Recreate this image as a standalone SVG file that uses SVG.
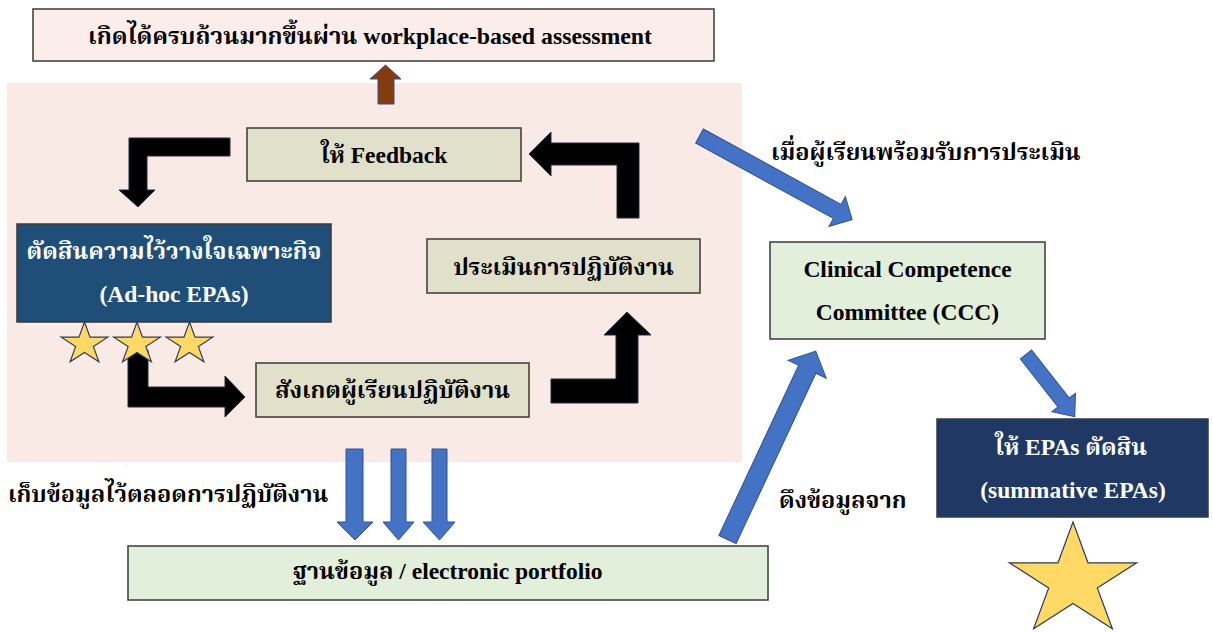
<svg xmlns="http://www.w3.org/2000/svg" xmlns:xlink="http://www.w3.org/1999/xlink" width="1213" height="632" viewBox="0 0 1213 632">
<style>
.box{stroke:#3a3a3a;stroke-width:1.5}
.pinkbox{fill:#FBEEEA}
.khaki{fill:#E1E0CA}
.green{fill:#E2EFDA}
.navy1{fill:#1F4E79}
.navy2{fill:#203864}
.t{font-family:"Liberation Serif","Noto Serif Thai","Noto Sans Thai","DejaVu Serif",serif;font-weight:bold;font-size:23.5px;fill:#000}
.c{text-anchor:middle}
.w{fill:#fff}
.blk{fill:#000;stroke:#1F2A44;stroke-width:1}
.blu{fill:#4472C4;stroke:#2F528F;stroke-width:1}
.brn{fill:#843C0C;stroke:#2F528F;stroke-width:1}
.star{fill:#FFD966;stroke:#2F3B5C;stroke-width:1.2}
</style>
<defs>
<path id="sstar" class="star" d="M0,-22 L5.5,-6.8 L23.3,-6.8 L8.9,2.6 L14.4,17.8 L0,8.4 L-14.4,17.8 L-8.9,2.6 L-23.3,-6.8 L-5.5,-6.8 Z"/>
</defs>
<rect x="0" y="0" width="1213" height="632" fill="#fff"/>
<rect id="cycle-bg" x="7" y="83" width="735" height="379" fill="#FAEAE5"/>

<g id="connectors">
<path class="brn" d="M378,104 L378,79 L370,79 L385.5,65 L401,79 L394,79 L394,104 Z"/>
<path class="blk" d="M230,138 L129,138 L129,190 L119,190 L138,207 L155,190 L147,190 L147,156 L230,156 Z"/>
<path class="blk" d="M639,218 L639,143 L551,143 L551,132 L529,154 L551,176 L551,165 L617,165 L617,218 Z"/>
<path class="blk" d="M128,350 L128,407 L225,407 L225,417 L245,397 L225,376 L225,387 L148,387 L148,350 Z"/>
<path class="blk" d="M551,379 L551,403 L638,403 L638,335 L651,335 L627,312 L604,335 L616,335 L616,379 Z"/>
<path class="blu" transform="translate(699.5,136) rotate(28.7)" d="M0,-8 L157,-8 L157,-17 L174,0 L157,17 L157,8 L0,8 Z"/>
<path class="blu" transform="translate(727.5,539.5) rotate(-64.9)" d="M0,-9.5 L188,-9.5 L188,-21 L208,0 L188,21 L188,9.5 L0,9.5 Z"/>
<path class="blu" transform="translate(1026,354.5) rotate(51.9)" d="M0,-7.2 L61,-7.2 L61,-15 L79,0 L61,15 L61,7.2 L0,7.2 Z"/>
<path class="blu" d="M346,449 L363,449 L363,522 L373,522 L355,540 L337,522 L346,522 Z"/>
<path class="blu" d="M391,449 L406,449 L406,522 L414,522 L398.5,540 L383,522 L391,522 Z"/>
<path class="blu" d="M432,449 L447,449 L447,522 L455,522 L439.5,540 L423,522 L432,522 Z"/>
</g>

<g id="node-result">
<rect class="box pinkbox" x="33" y="9" width="681" height="52"/>
<text class="t c" x="370" y="44" textLength="564" lengthAdjust="spacingAndGlyphs">เกิดได้ครบถ้วนมากขึ้นผ่าน workplace-based assessment</text>
</g>
<g id="node-feedback">
<rect class="box khaki" x="247" y="128" width="274" height="53"/>
<text class="t c" x="384" y="163">ให้ Feedback</text>
</g>
<g id="node-adhoc">
<rect class="box navy1" x="17" y="224" width="314" height="98"/>
<text class="t c w" x="174" y="259">ตัดสินความไว้วางใจเฉพาะกิจ</text>
<text class="t c w" x="174" y="302">(Ad-hoc EPAs)</text>
</g>
<g id="node-stars">
<use xlink:href="#sstar" x="84.5" y="344"/>
<use xlink:href="#sstar" x="137" y="344"/>
<use xlink:href="#sstar" x="189.5" y="344"/>
</g>
<g id="node-assess">
<rect class="box khaki" x="427" y="239" width="273" height="54"/>
<text class="t c" x="563.5" y="275">ประเมินการปฏิบัติงาน</text>
</g>
<g id="node-observe">
<rect class="box khaki" x="256" y="363" width="273" height="54"/>
<text class="t c" x="392.5" y="398">สังเกตผู้เรียนปฏิบัติงาน</text>
</g>
<g id="node-ccc">
<rect class="box green" x="770" y="242" width="275" height="97"/>
<text class="t c" x="907.5" y="277">Clinical Competence</text>
<text class="t c" x="907.5" y="320">Committee (CCC)</text>
</g>
<g id="node-epa">
<rect class="box navy2" x="937" y="419" width="271" height="98"/>
<text class="t c w" x="1071" y="455">ให้ EPAs ตัดสิน</text>
<text class="t c w" x="1073" y="498">(summative EPAs)</text>
</g>
<g id="node-bigstar">
<path class="star" transform="translate(1073,581)" d="M0,-59 L15,-18.2 L63.7,-18.2 L24.3,7 L39.4,47.7 L0,22.5 L-39.4,47.7 L-24.3,7 L-63.7,-18.2 L-15,-18.2 Z"/>
</g>
<g id="node-portfolio">
<rect class="box green" x="128" y="546" width="640" height="54"/>
<text class="t c" x="447.5" y="579">ฐานข้อมูล / electronic portfolio</text>
</g>
<g id="labels">
<text class="t" x="771" y="160">เมื่อผู้เรียนพร้อมรับการประเมิน</text>
<text class="t" x="8" y="502">เก็บข้อมูลไว้ตลอดการปฏิบัติงาน</text>
<text class="t" x="779" y="508">ดึงข้อมูลจาก</text>
</g>
</svg>
